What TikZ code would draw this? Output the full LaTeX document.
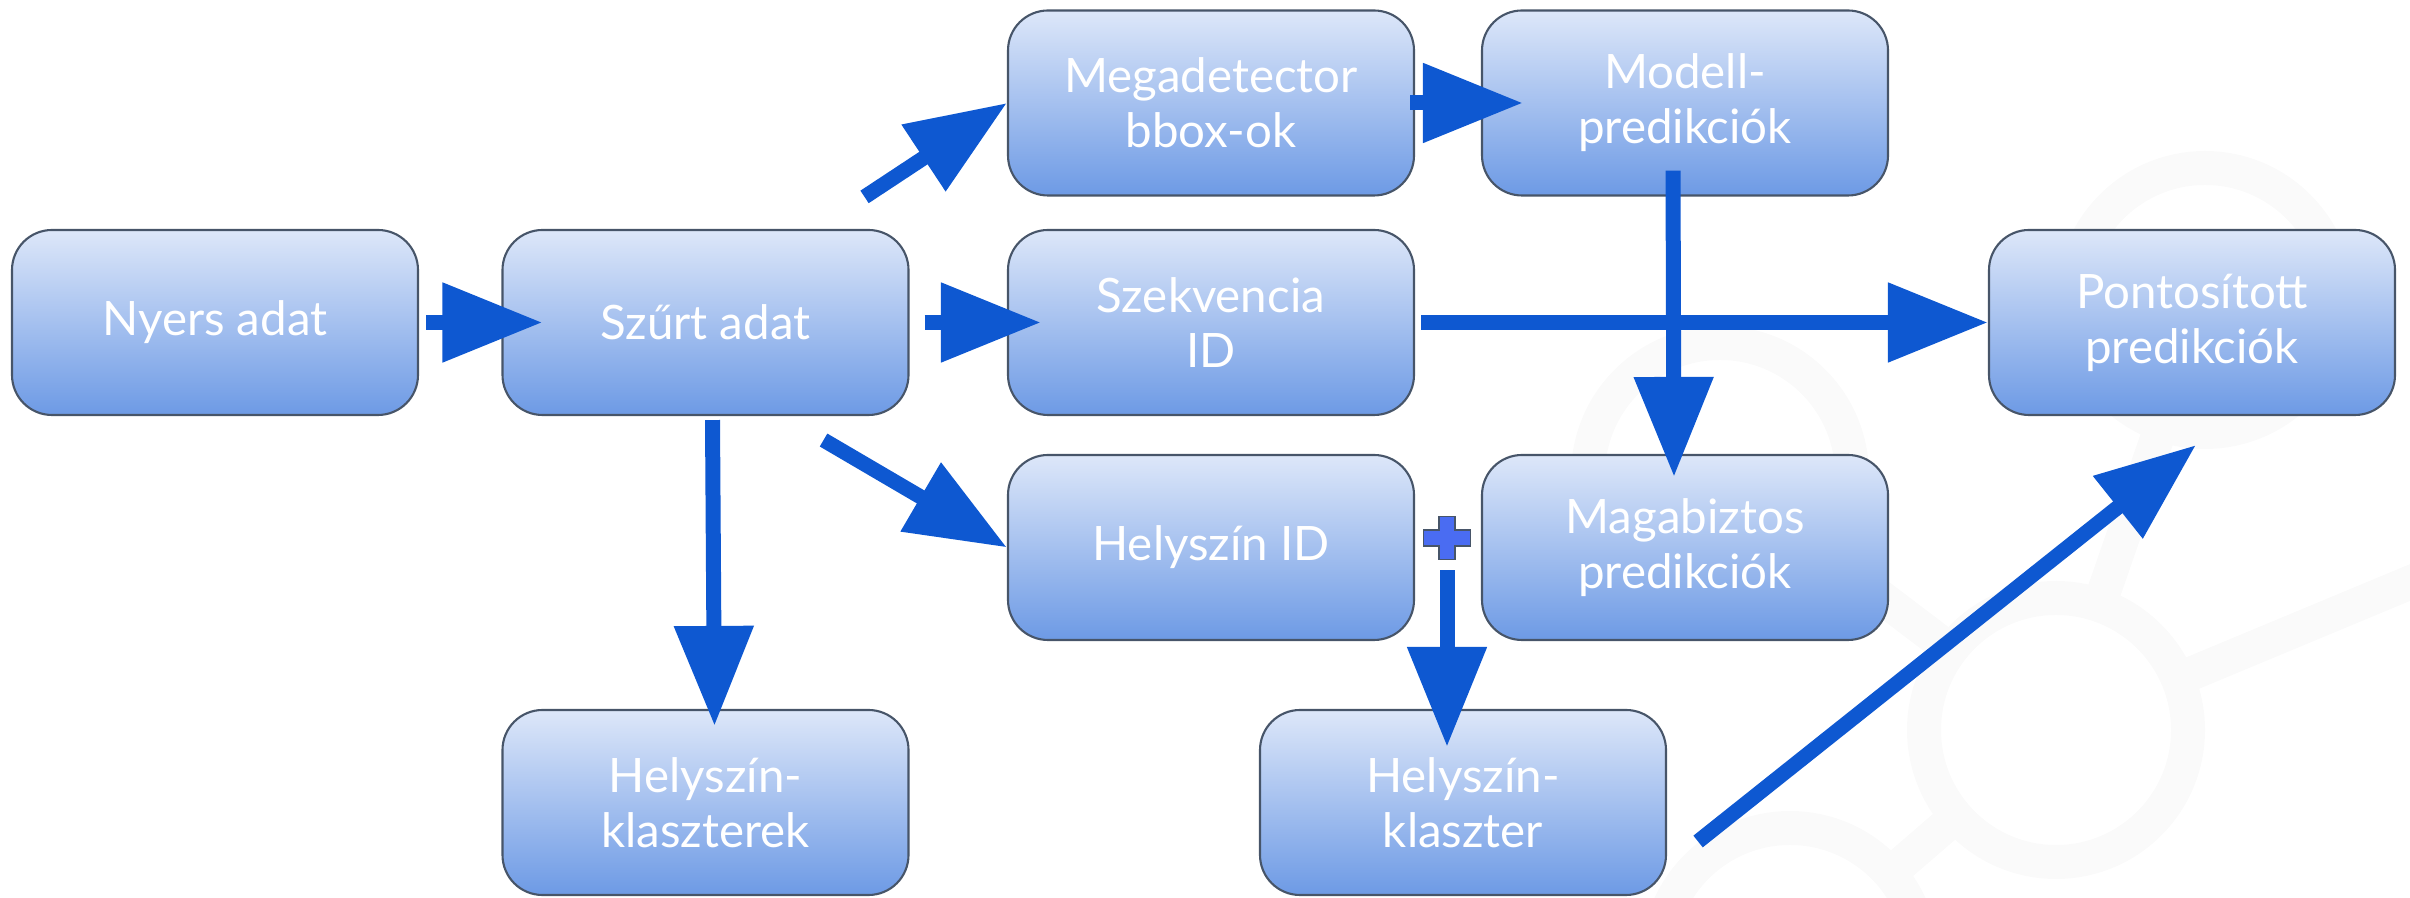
\documentclass[tikz,border=0pt]{standalone}
\usepackage{fontspec}
\setmainfont{Lato}
\usepackage{tikz}
\usetikzlibrary{arrows.meta}
\definecolor{boxtop}{HTML}{DDE7F9}
\definecolor{boxbot}{HTML}{6D9AE5}
\definecolor{boxedge}{HTML}{475569}
\definecolor{arrowblue}{HTML}{0E58D1}
\definecolor{plusfill}{HTML}{4A6CF2}
\definecolor{ringgray}{HTML}{FAFAFA}
\newcommand{\boxfont}{\fontsize{13.5}{15.6}\selectfont}

\begin{document}
\begin{tikzpicture}[
  box/.style={rectangle, rounded corners=0.4cm, draw=boxedge, line width=0.6pt,
    top color=boxtop, bottom color=boxbot, minimum width=4.06cm, minimum height=1.85cm,
    inner sep=0pt, text=white, align=center, font=\boxfont},
  arr/.style={draw=arrowblue, line width=0.15cm, -{Triangle[length=1.0cm, width=0.76cm]}},
  ring/.style={draw=ringgray, line width=0.34cm},
  bond/.style={draw=ringgray, line width=0.34cm, shorten <=1.32cm, shorten >=1.32cm}]
  \useasboundingbox (0,0) rectangle (24.10,8.98);
  \clip (0,0) rectangle (24.10,8.98);
  \coordinate (rA) at (22.05,5.98);
  \coordinate (rB) at (17.20,4.23);
  \coordinate (rC) at (20.56,1.68);
  \coordinate (rD) at (25.60,3.78);
  \coordinate (rE) at (17.90,-0.62);
  \foreach \r in {rA,rB,rC,rD,rE}
    \draw[ring] (\r) circle (1.32);
  \draw[bond] (rA) -- (rC);
  \draw[bond] (rB) -- (rC);
  \draw[bond] (rC) -- (rD);
  \draw[bond] (rC) -- (rE);

  \node[box] (nyers) at (2.15,5.755) {Nyers adat};
  \node[box] (szurt) at (7.055,5.755) {Szűrt adat};
  \node[box] (mega) at (12.11,7.95) {Megadetector\\bbox-ok};
  \node[box] (modell) at (16.85,7.95) {Modell-\\predikciók};
  \node[box] (szekv) at (12.11,5.755) {Szekvencia\\ID};
  \node[box] (pontos) at (21.92,5.755) {Pontosított\\predikciók};
  \node[box] (helyid) at (12.11,3.505) {Helyszín ID};
  \node[box] (magab) at (16.85,3.505) {Magabiztos\\predikciók};
  \node[box] (klaszterek) at (7.055,0.955) {Helyszín-\\klaszterek};
  \node[box] (klaszter) at (14.63,0.955) {Helyszín-\\klaszter};
  \node[inner sep=0pt, minimum size=0.45cm] (plus) at (14.47,3.60) {};
  \begin{scope}[shift={(plus)}]
    \filldraw[fill=plusfill, draw=boxedge, line width=0.5pt]
      (-0.235,-0.08) -- (-0.08,-0.08) -- (-0.08,-0.215) -- (0.08,-0.215) -- (0.08,-0.08)
      -- (0.235,-0.08) -- (0.235,0.08) -- (0.08,0.08) -- (0.08,0.215) -- (-0.08,0.215)
      -- (-0.08,0.08) -- (-0.235,0.08) -- cycle;
  \end{scope}

  \draw[arr] ([xshift=0.07cm]nyers.east) -- ([xshift=0.41cm]szurt.west);
  \draw[arr] ([xshift=0.15cm]szurt.east) -- ([xshift=0.34cm]szekv.west);
  \draw[arr] ([xshift=-0.45cm,yshift=0.32cm]szurt.north east) -- (mega.west);
  \draw[arr] ([xshift=-0.05cm]mega.east) -- ([xshift=0.42cm]modell.west);
  \draw[arr] ([xshift=-0.12cm,yshift=0.26cm]modell.south) -- ([xshift=-0.11cm,yshift=-0.23cm]magab.north);
  \draw[arr] ([xshift=0.06cm]szekv.east) -- (pontos.west);
  \draw[arr] ([xshift=0.07cm,yshift=-0.04cm]szurt.south) -- ([xshift=0.09cm,yshift=-0.17cm]klaszterek.north);
  \draw[arr] ([xshift=-0.86cm,yshift=-0.24cm]szurt.south east) -- (helyid.west);
  \draw[arr] ([yshift=-0.09cm]plus.south) -- ([yshift=-0.38cm]plus.south |- klaszter.north);
  \draw[arr] ([xshift=0.31cm,yshift=-0.39cm]klaszter.east) -- ([xshift=0.04cm,yshift=-0.29cm]pontos.south);
\end{tikzpicture}
\end{document}
